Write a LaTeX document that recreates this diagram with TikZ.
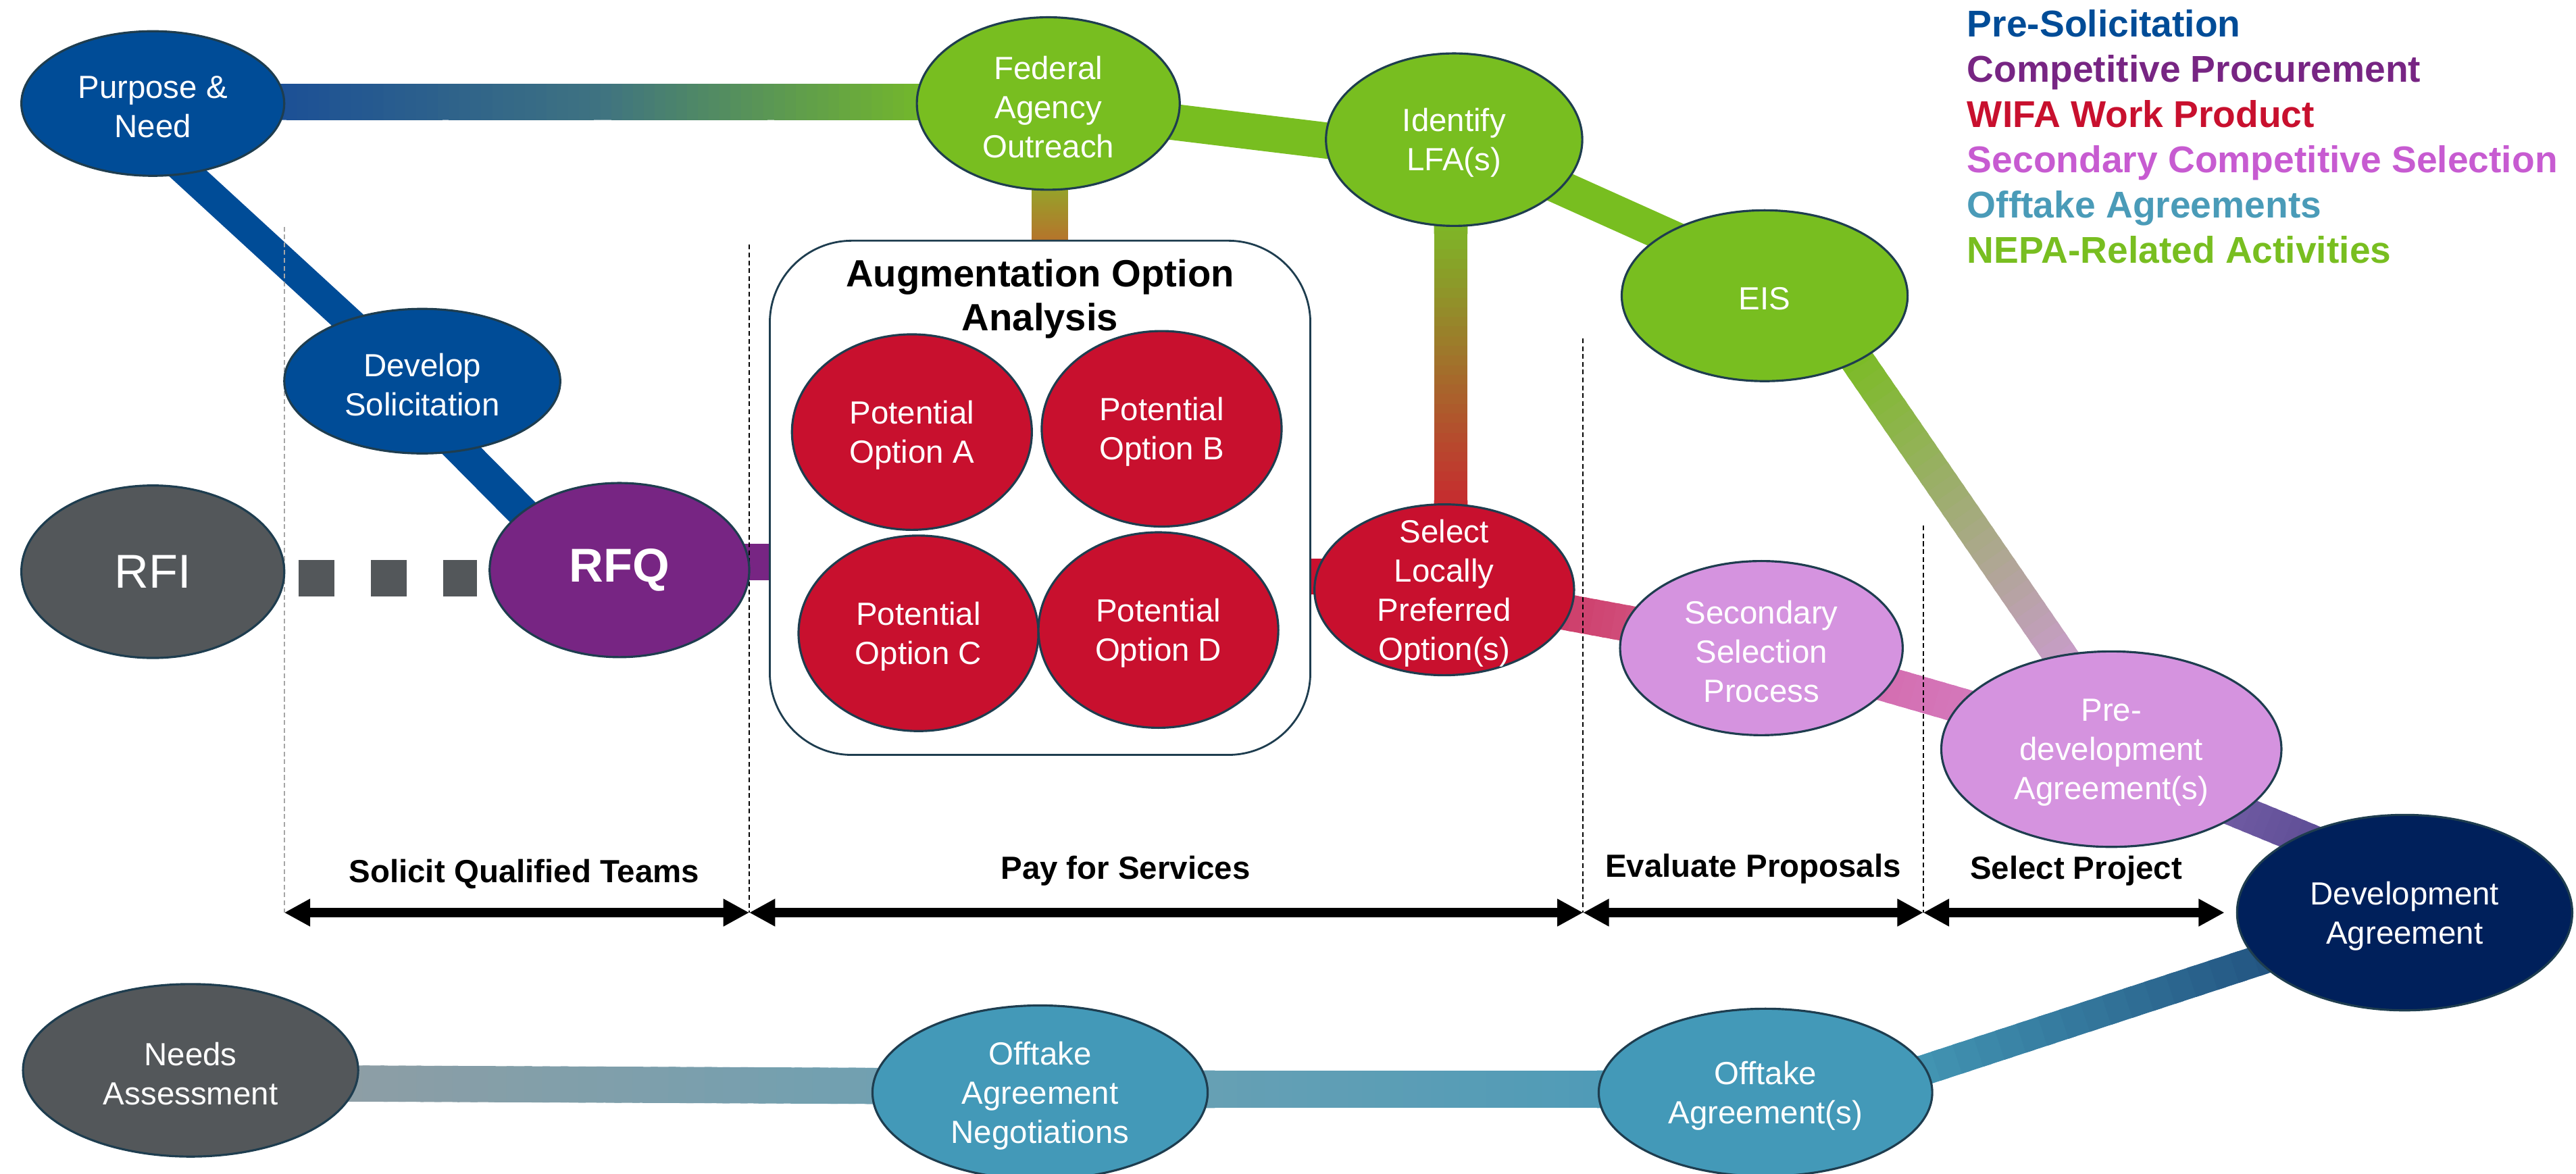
\documentclass[tikz,border=0pt]{standalone}
\usepackage{fontspec}
\setmainfont{Liberation Sans}
\usetikzlibrary{shapes.geometric,calc,arrows.meta}
\pgfdeclarelayer{bg}
\pgfdeclarelayer{mid}
\pgfsetlayers{bg,mid,main}
\definecolor{cBlue}{HTML}{004C97}
\definecolor{cPurple}{HTML}{772583}
\definecolor{cRed}{HTML}{C8102E}
\definecolor{cLav}{HTML}{D593DF}
\definecolor{cLavText}{HTML}{C75BD1}
\definecolor{cTeal}{HTML}{4399B8}
\definecolor{cTealText}{HTML}{4A9BB8}
\definecolor{cGreen}{HTML}{78BE20}
\definecolor{cGray}{HTML}{53575A}
\definecolor{cNavy}{HTML}{00205B}
\definecolor{cBord}{HTML}{1E3D4F}
\definecolor{gA1}{HTML}{1B4F96}
\definecolor{gA2}{HTML}{3F7381}
\definecolor{gA3}{HTML}{74B82A}
\definecolor{gB1}{HTML}{94A52A}
\definecolor{gB2}{HTML}{B8702B}
\definecolor{gC1}{HTML}{7CB927}
\definecolor{gC2}{HTML}{C8282F}
\definecolor{gD1}{HTML}{7BBC24}
\definecolor{gD2}{HTML}{CB9BCF}
\definecolor{gE1}{HTML}{C8224A}
\definecolor{gE2}{HTML}{D66C9E}
\definecolor{gF1}{HTML}{D25FA2}
\definecolor{gF2}{HTML}{D689CC}
\definecolor{gG1}{HTML}{8A6DB5}
\definecolor{gG2}{HTML}{4A4088}
\definecolor{gH1}{HTML}{50B2C9}
\definecolor{gH2}{HTML}{173B6E}
\definecolor{gI1}{HTML}{8E9EA5}
\definecolor{gI2}{HTML}{70A0B1}
\definecolor{gJ1}{HTML}{67A0B4}
\definecolor{gJ2}{HTML}{4F9BB7}
% gradient band made of short segments
\newcommand\gband[5][22]{%
  \foreach \i in {0,...,29}{%
    \pgfmathsetmacro\gbpa{\i/30}%
    \pgfmathsetmacro\gbpb{min(1,(\i+1.4)/30)}%
    \pgfmathsetmacro\gbmix{100-(\i+0.5)*100/30}%
    \draw[line width=#1*0.692pt, draw={#4!\gbmix!#5}] ($(#2)!\gbpa!(#3)$) -- ($(#2)!\gbpb!(#3)$);%
  }%
}
\newcommand\sband[4][22]{%
  \draw[line width=#1*0.692pt, draw=#4] (#2) -- (#3);%
}
\newcommand\enode[6]{%
  \node[ell, minimum width=#3*0.692pt, minimum height=#4*0.692pt, fill=#5] (#1) at (#2) {};%
  \node[ntxt] (#1-t) at ($(#1.center)+(0,2)$) {#6};%
}
\tikzset{
  ell/.style={ellipse, draw=cBord, line width=0.9pt, inner sep=0pt},
  ntxt/.style={align=center, text=white, inner sep=0pt, font=\fontsize{13.5}{16.5}\selectfont},
  vline/.style={line width=0.6pt, dash pattern=on 2pt off 1.3pt},
  arr/.style={line width=4pt, {Triangle[length=10.9pt,width=10.9pt]}-{Triangle[length=10.9pt,width=10.9pt]}},
  phase/.style={font=\bfseries\fontsize{13.5}{16}\selectfont, anchor=base, inner sep=0pt},
  legend/.style={font=\bfseries\fontsize{15.7}{19}\selectfont, anchor=base west, inner sep=0pt},
}
\begin{document}
\begin{tikzpicture}[x=0.02432cm, y=-0.02432cm]
\useasboundingbox (0,0) rectangle (1567.8,714.6);

% ---------- nodes ----------
\enode{pn}{93,63}{160}{88}{cBlue}{Purpose \&\\Need}
\enode{fed}{638,63}{160}{105}{cGreen}{Federal\\Agency\\Outreach}
\enode{ident}{885,85}{156}{105}{cGreen}{Identify\\LFA(s)}
\enode{eis}{1074,180}{174}{104}{cGreen}{EIS}
\enode{dev}{257,232}{168}{88}{cBlue}{Develop\\Solicitation}
\node[ell, minimum width=160*0.692pt, minimum height=105*0.692pt, fill=cGray] (rfi) at (93,348) {};
\node[ntxt, font=\fontsize{20}{24}\selectfont] (rfi-t) at (rfi.center) {RFI};
\node[ell, minimum width=158*0.692pt, minimum height=106*0.692pt, fill=cPurple] (rfq) at (377,347) {};
\node[ntxt, font=\bfseries\fontsize{20}{24}\selectfont] (rfq-t) at (rfq.center) {RFQ};

\node[draw=cBord, line width=0.8pt, fill=white, rounded corners=34.6pt,
      minimum width=329*0.692pt, minimum height=313*0.692pt, inner sep=0pt] (box) at (633,303) {};
\node[align=center, inner sep=0pt, font=\bfseries\fontsize{16}{18.6}\selectfont] (title) at (633,182) {Augmentation Option\\Analysis};

\enode{optA}{555,263}{146}{119}{cRed}{Potential\\Option A}
\enode{optB}{707,261}{146}{119}{cRed}{Potential\\Option B}
\enode{optC}{559,385.5}{146}{119}{cRed}{Potential\\Option C}
\enode{optD}{705,383.5}{146}{119}{cRed}{Potential\\Option D}
\enode{sel}{879,359}{158}{104}{cRed}{Select\\Locally\\Preferred\\Option(s)}
\enode{sec}{1072,394.5}{172}{106}{cLav}{Secondary\\Selection\\Process}
\enode{pre}{1285,456}{207}{119}{cLav}{Pre-\\development\\Agreement(s)}
\enode{devag}{1463.5,555.5}{204}{119}{cNavy}{Development\\Agreement}
\enode{offagr}{1074.5,665}{203}{102}{cTeal}{Offtake\\Agreement(s)}
\enode{offneg}{633,665}{204}{106}{cTeal}{Offtake\\Agreement\\Negotiations}
\enode{needs}{116,651.5}{204}{105}{cGray}{Needs\\Assessment}

% ---------- connectors (bands) ----------
\begin{pgfonlayer}{bg}
\coordinate (pf1) at ($(pn.east)+(-6,-1)$);
\coordinate (pf2) at ($(fed.west)+(6,-1)$);
\coordinate (pfm) at ($(pf1)!0.5!(pf2)$);
\gband[22]{pf1}{pfm}{gA1}{gA2}
\gband[22]{pfm}{pf2}{gA2}{gA3}

\coordinate (pd1) at ($(pn.center)+(-25,0)$);
\coordinate (pd2) at ($(dev.center)+(-5,0)$);
\sband[18]{pd1}{pd2}{cBlue}
\coordinate (dr1) at ($(dev.center)+(-18,0)$);
\coordinate (dr2) at ($(rfq.center)+(-24,0)$);
\sband[19.5]{dr1}{dr2}{cBlue}

\coordinate (rb1) at ($(rfq.center)+(0,-5)$);
\coordinate (rb2) at ($(rfq.center -| box.west)+(5,-5)$);
\sband[22]{rb1}{rb2}{cPurple}

\coordinate (fb1) at ($(fed.south)+(1,-3)$);
\coordinate (fb2) at ($(fed.south |- box.north)+(1,3)$);
\gband[22.5]{fb1}{fb2}{gB1}{gB2}

\coordinate (fi1) at ($(fed.center)+(0,2)$);
\coordinate (fi2) at ($(ident.center)+(0,10)$);
\sband[22]{fi1}{fi2}{cGreen}
\coordinate (ie2) at ($(eis.center)+(0,-10)$);
\sband[21]{ident.center}{ie2}{cGreen}

\coordinate (is1) at ($(ident.south)+(-2,-4)$);
\coordinate (is2) at ($(ident.south |- sel.north)+(-2,4)$);
\gband[20.5]{is1}{is2}{gC1}{gC2}

\coordinate (ep1) at ($(eis.center)+(54,36)$);
\coordinate (ep2) at ($(pre.center)+(-23.5,-46)$);
\gband[20.5]{ep1}{ep2}{gD1}{gD2}

\coordinate (bs1) at ($(box.east |- sel.center)+(-5,-8)$);
\coordinate (bs2) at ($(sel.center)+(0,-8)$);
\sband[22]{bs1}{bs2}{cRed}

\gband[22]{sel.center}{sec.center}{gE1}{gE2}
\gband[21.5]{sec.center}{pre.center}{gF1}{gF2}

\coordinate (pd3) at ($(pre.center)+(0,6)$);
\coordinate (pd4) at ($(devag.center)+(0,-20)$);
\gband[20.5]{pd3}{pd4}{gG1}{gG2}

\coordinate (od1) at ($(offagr.center)+(0,18)$);
\gband[18.5]{od1}{devag.center}{gH1}{gH2}

\coordinate (no1) at ($(needs.east)+(-9,8)$);
\coordinate (no2) at ($(offneg.west)+(8,-4)$);
\gband[22]{no1}{no2}{gI1}{gI2}

\coordinate (oo1) at ($(offneg.east)+(-8,-2)$);
\coordinate (oo2) at ($(offagr.west)+(8,-2)$);
\gband[23]{oo1}{oo2}{gJ1}{gJ2}
\end{pgfonlayer}

% RFI to RFQ square dashes
\draw[line width=22.5*0.692pt, cGray, dash pattern=on 22*0.692pt off 22*0.692pt]
  ($(rfi.east)+(8,4)$) -- ($(rfq.west)+(-7,5)$);

% ---------- phase separators ----------
\coordinate (v1t) at (173,138);   \coordinate (v1) at (173,555.5);
\coordinate (v2t) at (456,149);   \coordinate (v2) at (456,555.5);
\coordinate (v3t) at (963.5,206); \coordinate (v3) at (963.5,555.5);
\coordinate (v4t) at (1170.5,320);\coordinate (v4) at (1170.5,555.5);
\coordinate (v5) at (devag.west |- v4);
\begin{pgfonlayer}{mid}
\draw[vline, gray!70] (v1t) -- (v1);
\draw[vline] (v2t) -- (v2);
\draw[vline] (v3t) -- (v3);
\draw[vline] (v4t) -- (v4);
\end{pgfonlayer}
\coordinate (v5e) at ($(v5)+(-7,0)$);
\draw[arr] (v1) -- (v2);
\draw[arr] (v2) -- (v3);
\draw[arr] (v3) -- (v4);
\draw[arr] (v4) -- (v5e);

\node[phase] (ph1) at (319,537) {Solicit Qualified Teams};
\node[phase] (ph2) at (685,535) {Pay for Services};
\node[phase] (ph3) at (1067,534) {Evaluate Proposals};
\node[phase] (ph4) at (1263.5,535) {Select Project};

% ---------- legend ----------
\node[legend, text=cBlue]     (lg1) at (1197,22.6)  {Pre-Solicitation};
\node[legend, text=cPurple]   (lg2) at (1197,50.1)  {Competitive Procurement};
\node[legend, text=cRed]      (lg3) at (1197,77.6)  {WIFA Work Product};
\node[legend, text=cLavText]  (lg4) at (1197,105.1) {Secondary Competitive Selection};
\node[legend, text=cTealText] (lg5) at (1197,132.6) {Offtake Agreements};
\node[legend, text=cGreen]    (lg6) at (1197,160.1) {NEPA-Related Activities};
\end{tikzpicture}
\end{document}
